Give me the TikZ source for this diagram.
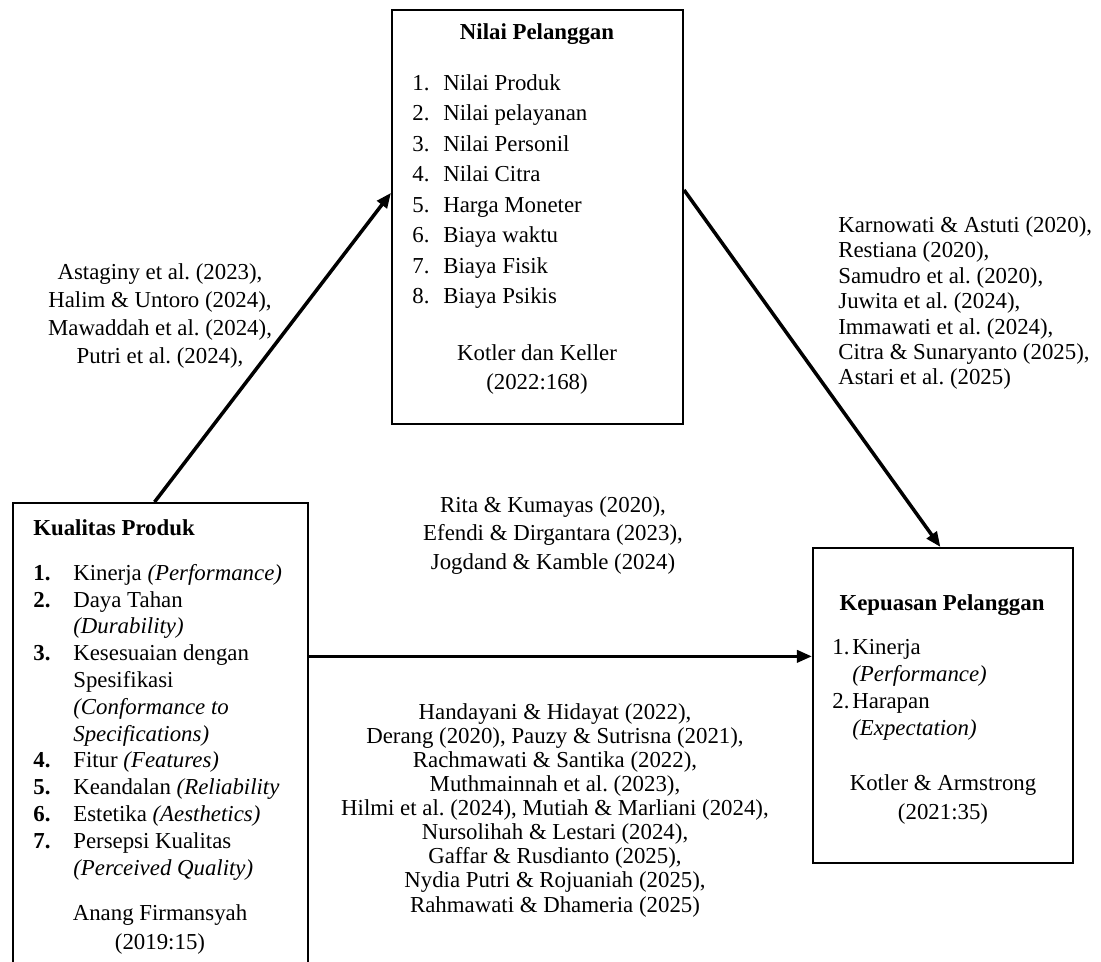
\documentclass[tikz,border=0pt]{standalone}
\usepackage{fontspec}
\setmainfont{Liberation Serif}
\frenchspacing
\newcommand{\numlbl}[2]{\makebox[#1][l]{#2}}
\newcommand{\fsz}[1]{\fontsize{13}{#1}\selectfont}
\usetikzlibrary{arrows.meta}
\usetikzlibrary{calc}

\begin{document}
\begin{tikzpicture}[>={Triangle[length=3mm,width=2.4mm]},x=0.02cm,y=-0.02cm,
      box/.style={draw,line width=1.2pt,inner sep=0pt},
      link/.style={line width=2pt},
      refs/.style={align=center,inner sep=0pt,anchor=base}]
    \useasboundingbox (0,0) rectangle (1101,962);
    % the three boxes
    \node[box,minimum width=5.82cm,minimum height=8.28cm] (np) at (537.5,217) {};
    \node[box,minimum width=5.9cm,minimum height=9.94cm] (kp) at (160.5,751.5) {};
    \node[box,minimum width=5.2cm,minimum height=6.3cm] (kpel) at (943,705.5) {};

    % Nilai Pelanggan (multi-line nodes sit on their last baseline)
    \node[refs,font=\fsz{15}\bfseries] (npT) at (537,40) {Nilai Pelanggan};
    \node[refs,anchor=base west,align=left,font=\fsz{17.4}] (npL) at (412,304)
      {\numlbl{0.62cm}{1.}Nilai Produk\\ \numlbl{0.62cm}{2.}Nilai pelayanan\\
       \numlbl{0.62cm}{3.}Nilai Personil\\ \numlbl{0.62cm}{4.}Nilai Citra\\
       \numlbl{0.62cm}{5.}Harga Moneter\\ \numlbl{0.62cm}{6.}Biaya waktu\\
       \numlbl{0.62cm}{7.}Biaya Fisik\\ \numlbl{0.62cm}{8.}Biaya Psikis};
    \node[refs,font=\fsz{17}] (npS) at (537,390) {Kotler dan Keller\\(2022:168)};

    % Kualitas Produk
    \node[refs,anchor=base west,font=\fsz{15}\bfseries] (kpT) at (33,535) {Kualitas Produk};
    \node[refs,anchor=base west,align=left,font=\fsz{15.25}] (kpL) at (33,875)
      {\numlbl{0.8cm}{\textbf{1.}}Kinerja \textit{(Performance)}\\
       \numlbl{0.8cm}{\textbf{2.}}Daya Tahan\\
       \numlbl{0.8cm}{}\textit{(Durability)}\\
       \numlbl{0.8cm}{\textbf{3.}}Kesesuaian dengan\\
       \numlbl{0.8cm}{}Spesifikasi\\
       \numlbl{0.8cm}{}\textit{(Conformance to}\\
       \numlbl{0.8cm}{}\textit{Specifications)}\\
       \numlbl{0.8cm}{\textbf{4.}}Fitur \textit{(Features)}\\
       \numlbl{0.8cm}{\textbf{5.}}Keandalan \textit{(Reliability}\\
       \numlbl{0.8cm}{\textbf{6.}}Estetika \textit{(Aesthetics)}\\
       \numlbl{0.8cm}{\textbf{7.}}Persepsi Kualitas\\
       \numlbl{0.8cm}{}\textit{(Perceived Quality)}};
    \node[refs,font=\fsz{16.5}] (kpS) at (160,949) {Anang Firmansyah\\(2019:15)};

    % Kepuasan Pelanggan
    \node[refs,font=\fsz{15}\bfseries] (kpelT) at (942,610) {Kepuasan Pelanggan};
    \node[refs,anchor=base west,align=left,font=\fsz{15.2}] (kpelL) at (832,735)
      {\numlbl{0.4cm}{1.}Kinerja\\ \numlbl{0.4cm}{}\textit{(Performance)}\\
       \numlbl{0.4cm}{2.}Harapan\\ \numlbl{0.4cm}{}\textit{(Expectation)}};
    \node[refs,font=\fsz{16.5}] (kpelS) at (943,819) {Kotler \& Armstrong\\(2021:35)};

    % references on the paths
    \node[refs,font=\fsz{16.1}] (refA) at (160,364)
      {Astaginy et al. (2023),\\Halim \& Untoro (2024),\\Mawaddah et al. (2024),\\Putri et al. (2024),};
    \node[refs,anchor=base west,align=left,font=\fsz{14.5}] (refB) at (838,385)
      {Karnowati \& Astuti (2020),\\Restiana (2020),\\Samudro et al. (2020),\\Juwita et al. (2024),\\
       Immawati et al. (2024),\\Citra \& Sunaryanto (2025),\\Astari et al. (2025)};
    \node[refs,font=\fsz{16.2}] (refC) at (553,569)
      {Rita \& Kumayas (2020),\\Efendi \& Dirgantara (2023),\\Jogdand \& Kamble (2024)};
    \node[refs,font=\fsz{13.7}] (refD) at (555,912)
      {Handayani \& Hidayat (2022),\\Derang (2020), Pauzy \& Sutrisna (2021),\\
       Rachmawati \& Santika (2022),\\Muthmainnah et al. (2023),\\
       Hilmi et al. (2024), Mutiah \& Marliani (2024),\\Nursolihah \& Lestari (2024),\\
       Gaffar \& Rusdianto (2025),\\Nydia Putri \& Rojuaniah (2025),\\Rahmawati \& Dhameria (2025)};

    \coordinate (kin) at ($(kpel.north west)!0.345!(kpel.south west)$);
    \path[link]
      ($(kp.north west)!0.48!(kp.north east)$) edge [->] ($(np.north west)!0.442!(np.south west)$)
      ($(np.north east)!0.435!(np.south east)$) edge [->] ($(kpel.north west)!0.49!(kpel.north east)$)
      (kp.east |- kin) edge [->] (kin);
  \end{tikzpicture}
\end{document}
